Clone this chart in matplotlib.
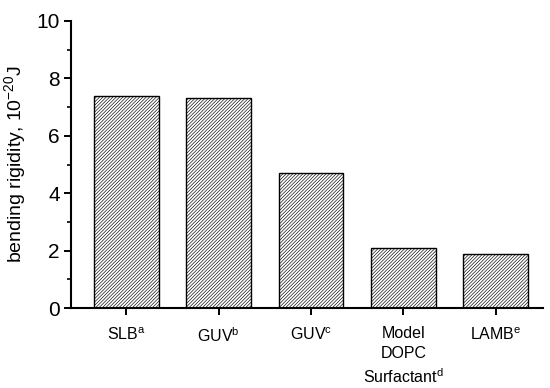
import matplotlib
matplotlib.use("Agg")
import matplotlib.pyplot as plt

plt.rcParams['font.family'] = ['Liberation Sans', 'DejaVu Sans']
plt.rcParams['mathtext.fontset'] = 'custom'
plt.rcParams['mathtext.rm'] = 'Liberation Sans'
plt.rcParams['mathtext.it'] = 'Liberation Sans:italic'
plt.rcParams['hatch.linewidth'] = 0.45

# datos
categorias = ["SLB$^{\\mathrm{a}}$", "GUV$^{\\mathrm{b}}$", "GUV$^{\\mathrm{c}}$",
              "Model\nDOPC\nSurfactant$^{\\mathrm{d}}$", "LAMB$^{\\mathrm{e}}$"]
rigidez = [7.4, 7.3, 4.7, 2.1, 1.9]

fig = plt.figure(figsize=(5.5, 3.88), dpi=100)
ax = fig.add_axes([0.129, 0.206, 0.858, 0.740])

pos = list(range(len(categorias)))
ax.bar(pos, rigidez, width=0.7, color='white', edgecolor='black',
       linewidth=1.0, hatch='//////////')

ax.set_xlim(-0.6, 4.51)
ax.set_ylim(0, 10)
ax.set_xticks(pos)
ax.set_xticklabels(categorias, fontsize=11.5, linespacing=1.4)
ax.set_yticks([0, 2, 4, 6, 8, 10])
ax.set_yticks([1, 3, 5, 7, 9], minor=True)
ax.tick_params(axis='y', labelsize=15, width=1.4, length=5, direction='out', pad=3)
ax.tick_params(axis='y', which='minor', width=1.2, length=3)
ax.tick_params(axis='x', width=1.4, length=5, direction='out', pad=8)
ax.set_ylabel("bending rigidity, 10$^{-20}$J", fontsize=14, labelpad=6)

ax.spines['top'].set_visible(False)
ax.spines['right'].set_visible(False)
ax.spines['left'].set_linewidth(1.5)
ax.spines['bottom'].set_linewidth(1.5)

fig.savefig("out.png", dpi=100)
